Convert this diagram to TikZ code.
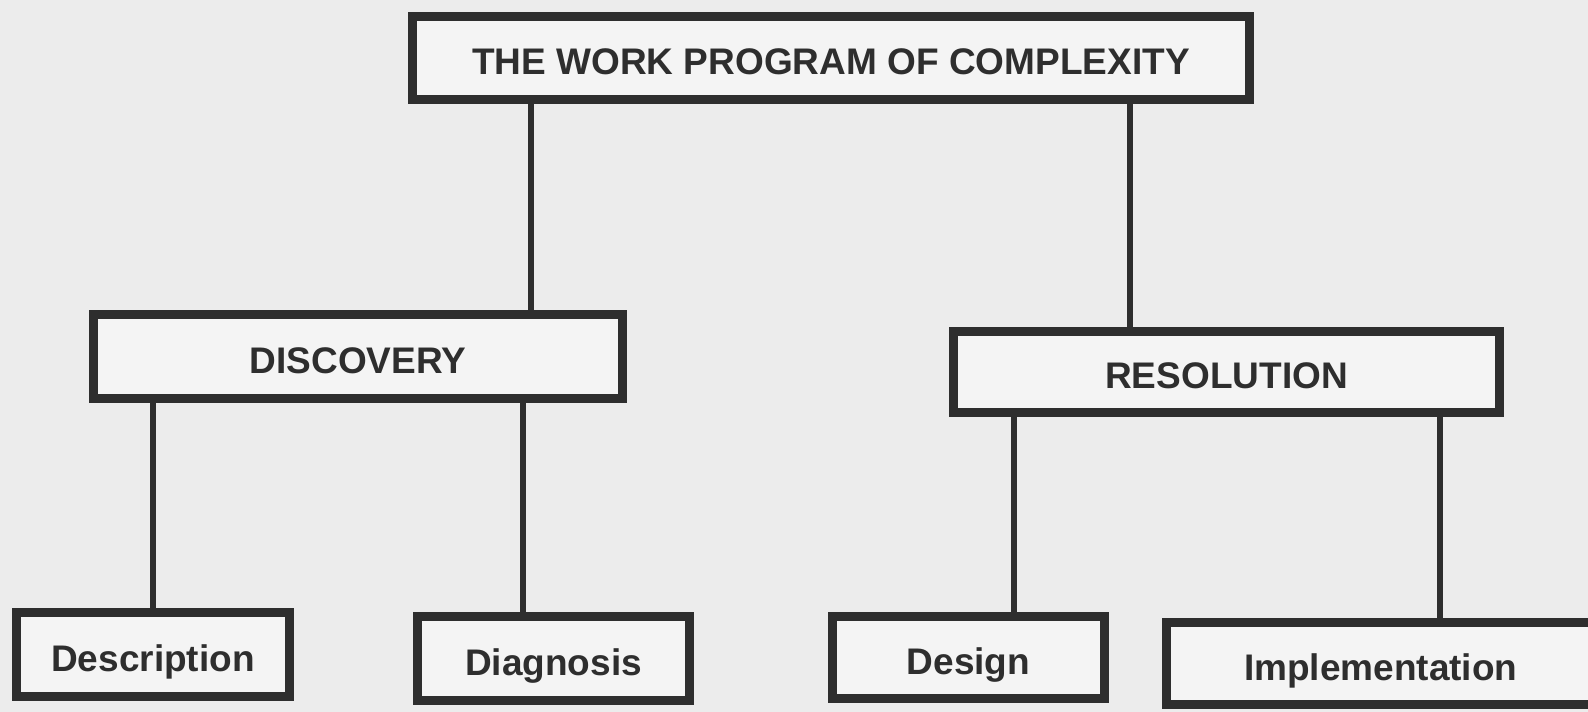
\documentclass[tikz,border=0pt]{standalone}
\usepackage{fontspec}
\setmainfont{Liberation Sans}
\definecolor{ink}{HTML}{2E2E2E}
\definecolor{paper}{HTML}{ECECEC}
\definecolor{boxfill}{HTML}{F4F4F4}

\begin{document}
\begin{tikzpicture}[x=1pt, y=-1pt,
      box/.style={draw=ink, line width=9pt, fill=boxfill, text=ink, inner sep=0pt,
        text height=33pt, text depth=0pt,
        font=\fontsize{37}{40}\selectfont\bfseries},
      link/.style={draw=ink, line width=6pt}]
    \path[use as bounding box, clip] (0,0) rectangle (1588,712);
    \fill[paper] (0,0) rectangle (1588,712);
    % root and the two branches
    \node (work) [box, minimum width=837pt, minimum height=83pt] at (831,58) {THE WORK PROGRAM OF COMPLEXITY};
    \node (disc) [box, minimum width=529pt, minimum height=84pt] at (358,356.5) {DISCOVERY};
    \node (reso) [box, minimum width=546pt, minimum height=81pt] at (1226.5,372) {RESOLUTION};
    % leaves
    \node (desc) [box, minimum width=273pt, minimum height=84pt] at (153,654.5) {Description};
    \node (diag) [box, minimum width=272pt, minimum height=84pt] at (553.5,658.5) {Diagnosis};
    \node (dsgn) [box, minimum width=272pt, minimum height=82pt] at (968.5,657.5) {Design};
    \node (impl) [box, minimum width=428pt, minimum height=82pt] at (1380.75,663.5) {Implementation};
    % connectors
    \draw[link] (work.south -| 531,0) -- (disc.north -| 531,0);
    \draw[link] (work.south -| 1130,0) -- (reso.north -| 1130,0);
    \draw[link] (disc.south -| desc.north) -- (desc.north);
    \draw[link] (disc.south -| 523,0) -- (diag.north -| 523,0);
    \draw[link] (reso.south -| 1014,0) -- (dsgn.north -| 1014,0);
    \draw[link] (reso.south -| 1440,0) -- (impl.north -| 1440,0);
  \end{tikzpicture}
\end{document}
